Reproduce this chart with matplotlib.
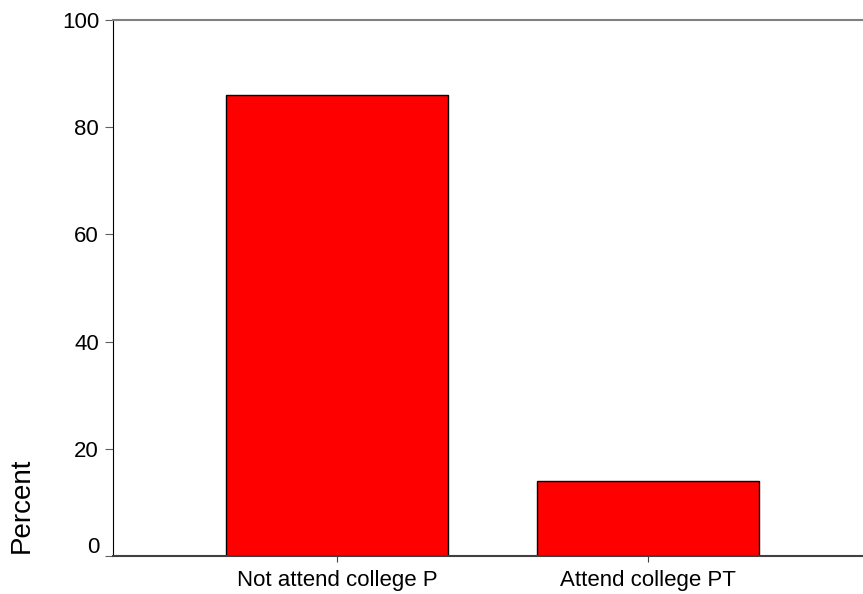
import numpy as np
import matplotlib
matplotlib.use('Agg')
import matplotlib.pyplot as plt
import matplotlib.transforms as mtransforms

plt.rcParams['font.family'] = ['Liberation Sans', 'DejaVu Sans']

# data
categories = ['Not attend college P', 'Attend college PT']
percent = [86.0, 14.0]
yticks = [0, 20, 40, 60, 80, 100]

fig = plt.figure(figsize=(8.63, 5.94), dpi=100)
ax = fig.add_axes([113/863, 38/594, 750/863, 536/594])

x = np.arange(len(categories))
ax.bar(x, percent, width=0.714, color='#ff0000', edgecolor='black', linewidth=1.0)

ax.set_xlim(-0.72, 1.69)
ax.set_ylim(0, 100)
ax.set_xticks(x)
ax.set_xticklabels(categories, fontsize=16)
ax.set_yticks(yticks)
ax.set_yticklabels([str(v) for v in yticks], fontsize=16)
ax.tick_params(axis='y', length=6, color='#606060', pad=4)
ax.tick_params(axis='x', length=4, color='#404040', pad=6)

# the 0 label sits a bit above its tick in the original
lab0 = ax.get_yticklabels()[0]
lab0.set_transform(lab0.get_transform() +
                   mtransforms.ScaledTranslation(0, 8/72, fig.dpi_scale_trans))

ax.spines['right'].set_visible(False)
ax.spines['left'].set_color('black')
ax.spines['top'].set_color('#808080')
ax.spines['top'].set_linewidth(1.5)
ax.spines['bottom'].set_color('#404040')
ax.spines['bottom'].set_linewidth(1.5)

fig.text(22/863, (594-505)/594, 'Percent', rotation=90, fontsize=20,
         ha='center', va='center')

fig.savefig('out.png', dpi=100)
